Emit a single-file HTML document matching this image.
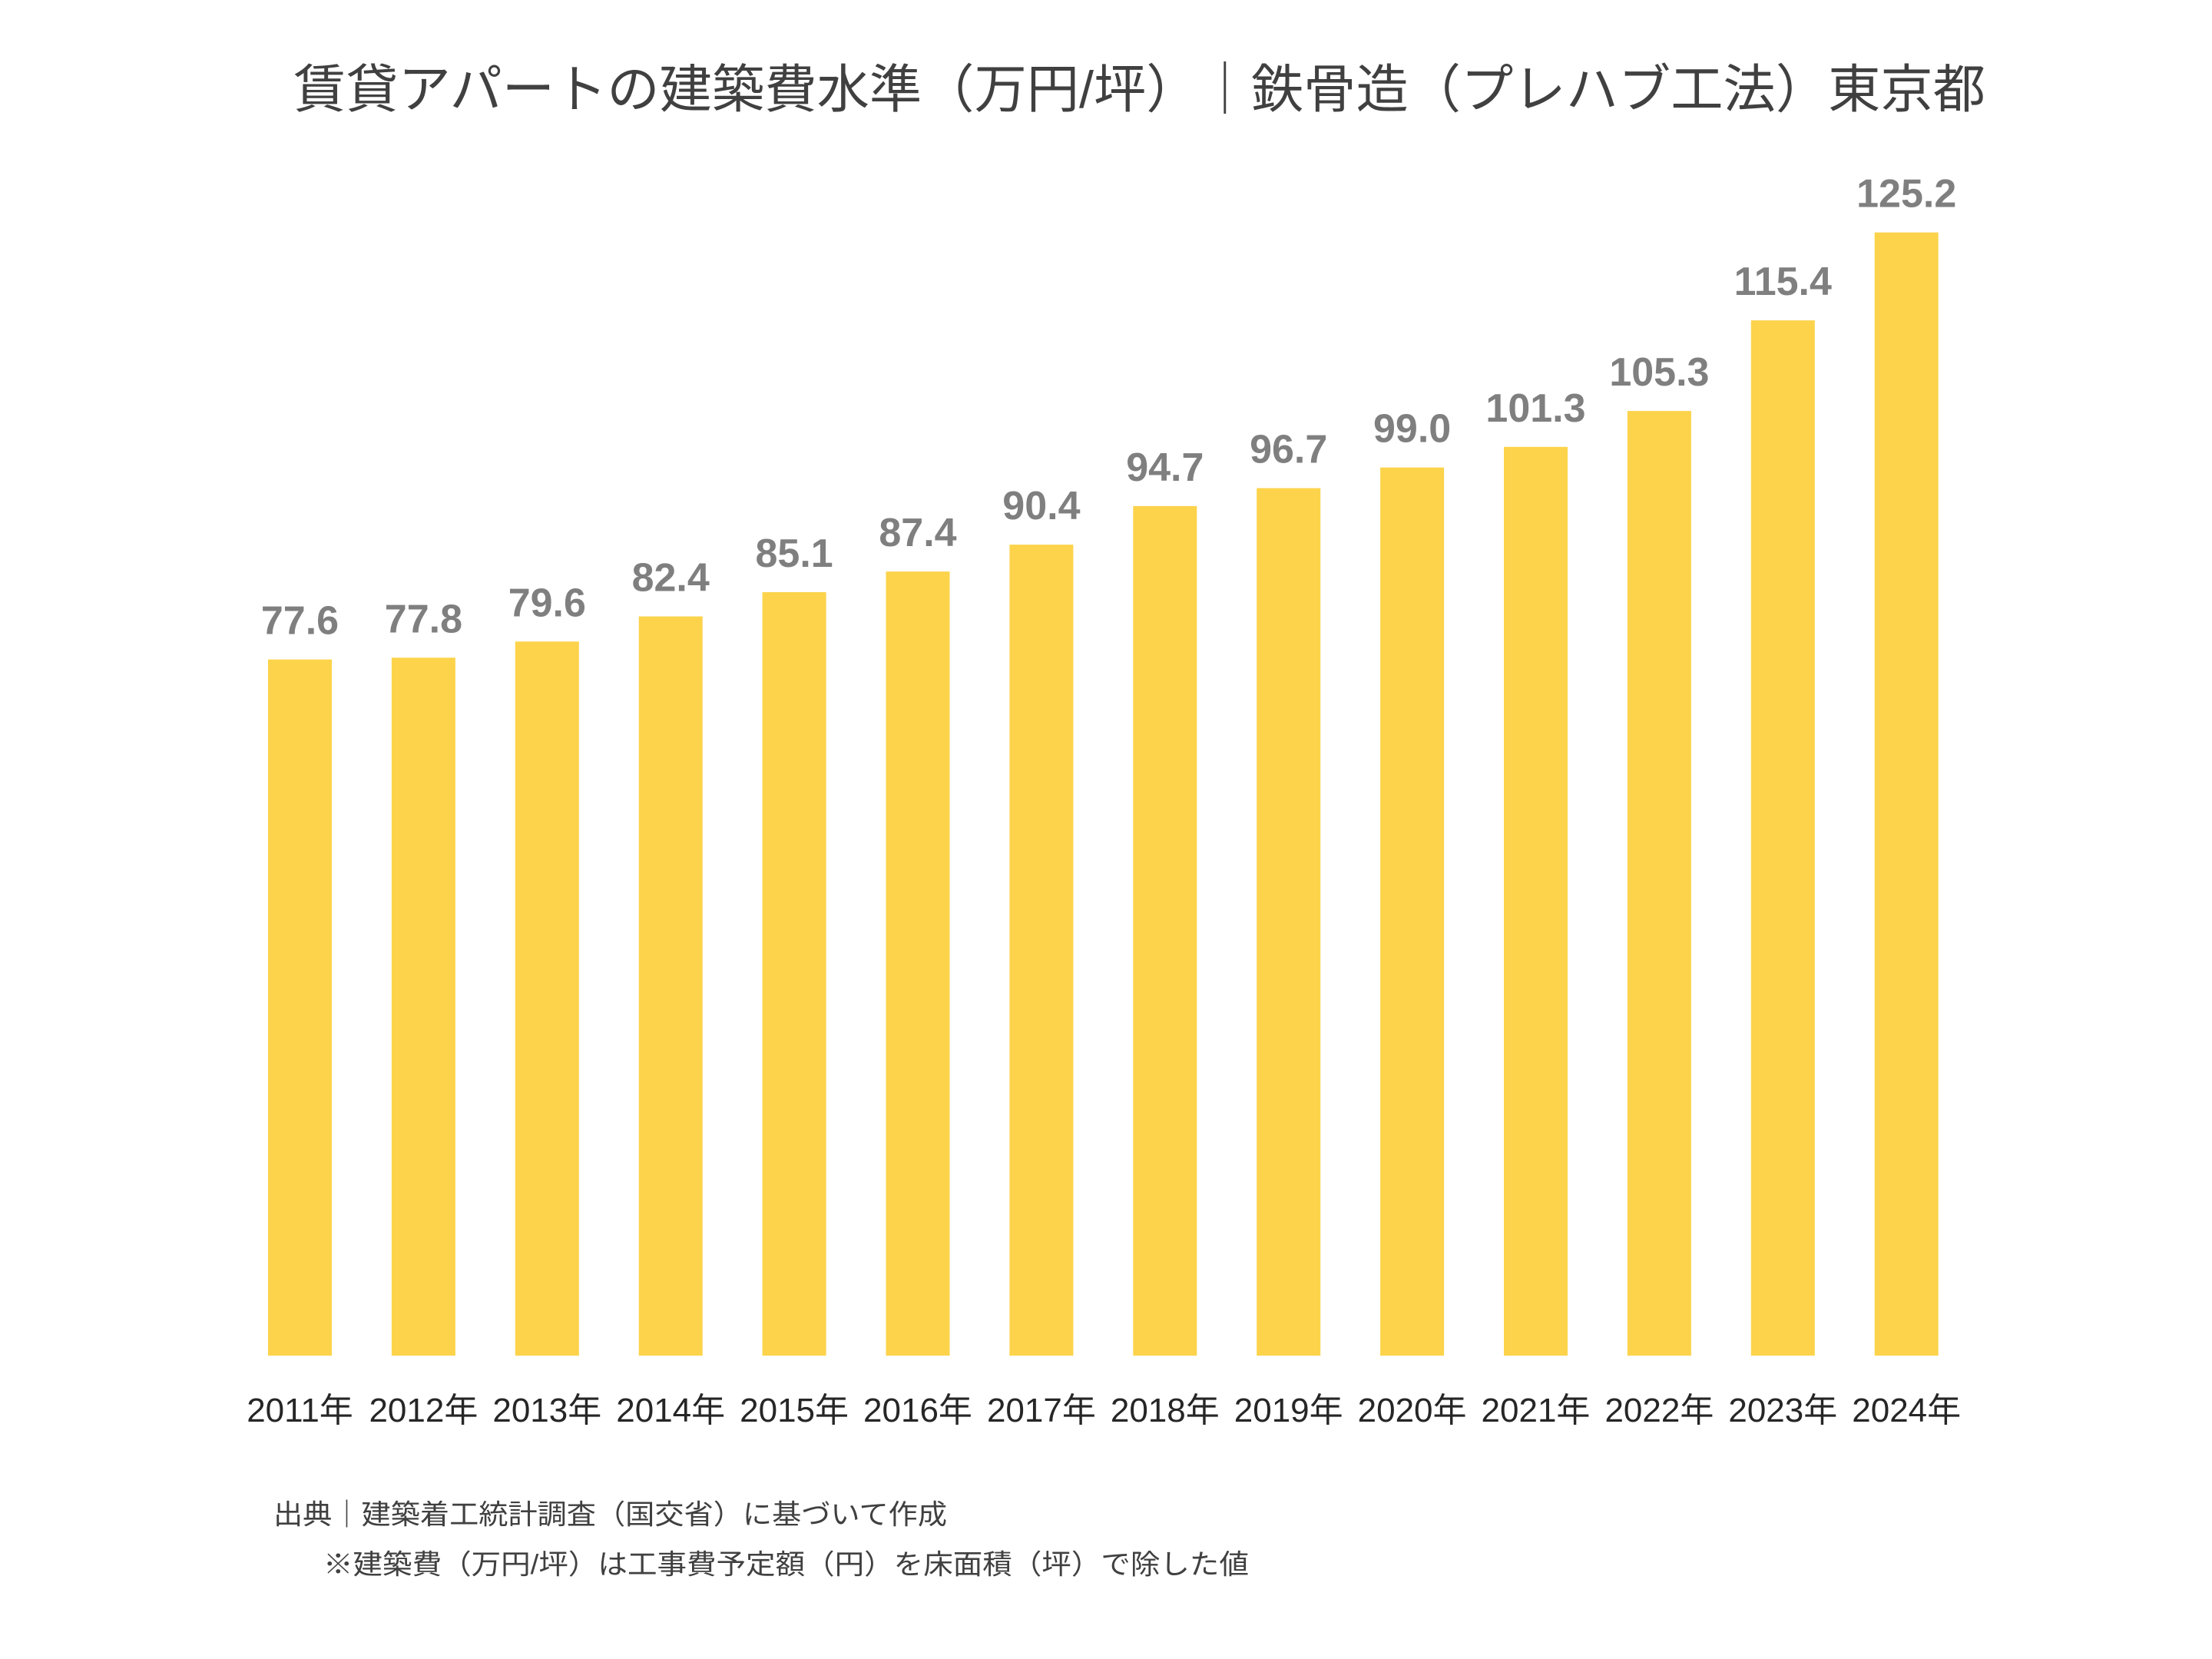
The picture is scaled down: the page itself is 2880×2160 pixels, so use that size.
<!DOCTYPE html>
<html><head><meta charset="utf-8"><style>
html,body{margin:0;padding:0;background:#fff;}
svg{display:block;}
</style></head><body>
<svg id="chart" width="2880" height="2160" viewBox="0 0 2880 2160" xmlns="http://www.w3.org/2000/svg">
<rect width="2880" height="2160" fill="#fff"/>
<text x="382" y="140" textLength="2203" lengthAdjust="spacingAndGlyphs" font-family="'Liberation Sans','Noto Sans CJK JP',sans-serif" font-size="68" fill="#404040">賃貸アパートの建築費水準（万円/坪）｜鉄骨造（プレハブ工法）東京都</text>
<g id="bars"></g>
<g id="vals"></g>
<g id="xlabels"></g>
<text x="356" y="1984" textLength="877" lengthAdjust="spacingAndGlyphs" font-family="'Liberation Sans','Noto Sans CJK JP',sans-serif" font-size="36" fill="#404040">出典｜建築着工統計調査（国交省）に基づいて作成</text>
<text x="421" y="2049" textLength="1205" lengthAdjust="spacingAndGlyphs" font-family="'Liberation Sans','Noto Sans CJK JP',sans-serif" font-size="36" fill="#404040">※建築費（万円/坪）は工事費予定額（円）を床面積（坪）で除した値</text>
</svg>
<script>
const categories = ["2011年","2012年","2013年","2014年","2015年","2016年","2017年","2018年","2019年","2020年","2021年","2022年","2023年","2024年"];
const values = [77.6,77.8,79.6,82.4,85.1,87.4,90.4,94.7,96.7,99.0,101.3,105.3,115.4,125.2];
const valueLabels = ["77.6","77.8","79.6","82.4","85.1","87.4","90.4","94.7","96.7","99.0","101.3","105.3","115.4","125.2"];

const NS = "http://www.w3.org/2000/svg";
const baseY = 1765, pxPerUnit = 11.68;
const firstCenter = 390.5, step = 160.9, barW = 83;
function xScale(i){ return firstCenter + i*step; }
function yScale(v){ return baseY - v*pxPerUnit; }
const gb = document.getElementById('bars'), gv = document.getElementById('vals'), gx = document.getElementById('xlabels');
values.forEach((v,i)=>{
  const r = document.createElementNS(NS,'rect');
  
  
  r.setAttribute('x', xScale(i)-barW/2);
  r.setAttribute('y', yScale(v));
  r.setAttribute('width', barW);
  r.setAttribute('height', baseY - yScale(v));
  r.setAttribute('fill', '#FCD34B');
  gb.appendChild(r);
  const t = document.createElementNS(NS,'text');
  
  
  t.setAttribute('x', xScale(i));
  t.setAttribute('y', yScale(v)-33);
  t.setAttribute('text-anchor','middle');
  t.setAttribute('font-family',"'Liberation Sans',sans-serif");
  t.setAttribute('font-weight','bold');
  t.setAttribute('font-size','52');
  t.setAttribute('fill','#7f7f7f');
  t.textContent = valueLabels[i];
  gv.appendChild(t);
  const c = document.createElementNS(NS,'text');
  
  
  c.setAttribute('x', xScale(i));
  c.setAttribute('y', 1851);
  c.setAttribute('text-anchor','middle');
  c.setAttribute('font-family',"'Liberation Sans','Noto Sans CJK JP',sans-serif");
  c.setAttribute('font-size','44');
  c.setAttribute('fill','#262626');
  c.textContent = categories[i];
  gx.appendChild(c);
});
</script>
</body></html>
